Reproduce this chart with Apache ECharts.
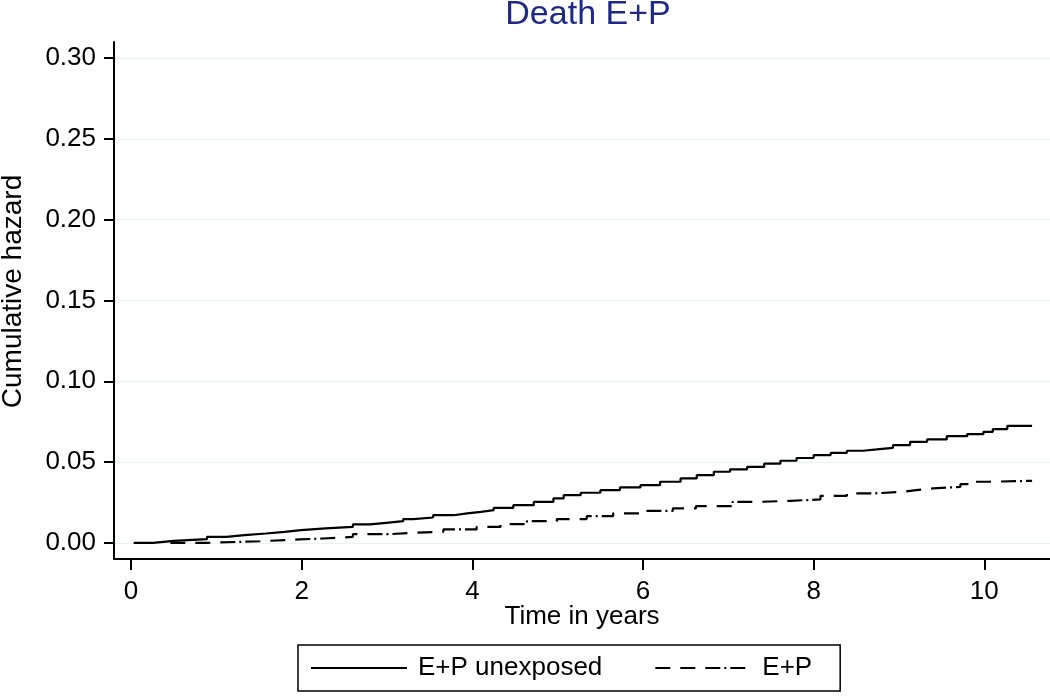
<!DOCTYPE html>
<html>
<head>
<meta charset="utf-8">
<script src="https://cdn.jsdelivr.net/npm/echarts@6/dist/echarts.min.js"></script>
<style>html,body{margin:0;padding:0;background:#fff}#chart{width:1050px;height:696px}</style>
</head>
<body>
<div id="chart"></div>
<script>
// Time (years) and cumulative hazard values (step points)
const unexposedTime = [0.03,0.26,0.5,0.89,1.12,1.33,1.58,1.8,1.99,2.28,2.6,2.8,2.99,3.19,3.31,3.54,3.78,3.94,4.1,4.25,4.48,4.72,4.95,5.07,5.27,5.5,5.73,5.97,6.2,6.44,6.63,6.83,7.02,7.22,7.42,7.61,7.8,8.0,8.2,8.39,8.58,8.74,8.93,9.13,9.33,9.56,9.8,9.99,10.1,10.27,10.56];
const unexposedHaz  = [0,0.0012,0.0023,0.0037,0.0048,0.0058,0.0068,0.0079,0.0089,0.0099,0.0114,0.0124,0.0134,0.0147,0.0157,0.0171,0.0182,0.0192,0.0202,0.0217,0.0233,0.0254,0.0275,0.0295,0.031,0.0326,0.0343,0.0357,0.0378,0.0399,0.0419,0.044,0.0455,0.047,0.049,0.0508,0.0525,0.0543,0.0557,0.057,0.0578,0.0588,0.0605,0.0625,0.064,0.066,0.0673,0.0687,0.0704,0.0724,0.0724];
const epTime = [0.46,0.89,1.51,1.98,2.25,2.6,3.04,3.3,3.66,4.05,4.33,4.64,4.99,5.34,5.65,6.0,6.35,6.62,7.05,7.37,7.73,8.08,8.39,8.7,9.05,9.2,9.4,9.72,9.87,10.05,10.56];
const epHaz  = [0,0.001,0.0021,0.0027,0.0037,0.0054,0.0062,0.0068,0.0083,0.0099,0.0116,0.0134,0.0147,0.0165,0.0182,0.0198,0.0213,0.0227,0.0254,0.026,0.0269,0.0291,0.0306,0.0316,0.0326,0.0337,0.0347,0.0363,0.0378,0.0384,0.0384];
const xTicks = [0,2,4,6,8,10];
const yTicks = [0,0.05,0.10,0.15,0.20,0.25,0.30];
const seriesNames = ['E+P unexposed','E+P'];
const titleText = 'Death E+P';
const xName = 'Time in years';
const yName = 'Cumulative hazard';

const FONT = '"Liberation Sans", Arial, sans-serif';
const pair = (xs, ys) => xs.map((x, i) => [x, ys[i]]);

const chart = echarts.init(document.getElementById('chart'), null, {renderer: 'canvas'});
chart.setOption({
  animation: false,
  backgroundColor: '#fff',
  title: {
    text: titleText, left: 583, top: -7, textAlign: 'center',
    textStyle: {fontFamily: FONT, fontSize: 34, fontWeight: 'normal', color: '#1c2a86'}
  },
  grid: {left: 114, right: 0, top: 42, bottom: 137, containLabel: false, outerBoundsMode: 'none'},
  xAxis: {
    type: 'value', min: -0.2, max: 10.77,
    name: xName, nameLocation: 'middle', nameGap: 45, nameMoveOverlap: false,
    nameTextStyle: {fontFamily: FONT, fontSize: 26, color: '#000'},
    axisLine: {show: true, onZero: false, lineStyle: {color: '#000', width: 2}},
    axisTick: {show: true, length: 11, lineStyle: {color: '#000', width: 2}, customValues: xTicks},
    axisLabel: {fontFamily: FONT, fontSize: 26, color: '#000', margin: 20, customValues: xTicks},
    splitLine: {show: false}
  },
  yAxis: {
    type: 'value', min: -0.01, max: 0.31,
    name: yName, nameLocation: 'middle', nameGap: 87, nameRotate: 90,
    nameTextStyle: {fontFamily: FONT, fontSize: 28, color: '#000', padding: [0, 0, 0, 18]},
    axisLine: {show: true, onZero: false, lineStyle: {color: '#000', width: 2}},
    axisTick: {show: true, length: 10, lineStyle: {color: '#000', width: 2}, customValues: yTicks},
    axisLabel: {fontFamily: FONT, fontSize: 26, color: '#000', margin: 18, customValues: yTicks,
      formatter: v => v.toFixed(2)},
    splitLine: {show: true, lineStyle: {color: '#e6f3f3', width: 1}}
  },
  legend: {
    left: 298, top: 645,
    data: seriesNames,
    itemWidth: 96, itemHeight: 14, itemGap: 52,
    padding: [10, 28, 10, 12],
    borderColor: '#000', borderWidth: 1.5, borderRadius: 0,
    itemStyle: {opacity: 0},
    textStyle: {fontFamily: FONT, fontSize: 26, color: '#000', padding: [0, 0, 0, 6]}
  },
  series: [
    {
      name: seriesNames[0], type: 'line', step: 'end', showSymbol: false, symbol: 'none',
      data: pair(unexposedTime, unexposedHaz),
      lineStyle: {color: '#000', width: 2.2, type: 'solid'},
      itemStyle: {color: '#000'}
    },
    {
      name: seriesNames[1], type: 'line', step: 'end', showSymbol: false, symbol: 'none',
      data: pair(epTime, epHaz),
      lineStyle: {color: '#000', width: 2.2, type: [15, 10, 15, 10, 15, 4, 2, 4]},
      itemStyle: {color: '#000'}
    }
  ]
});
</script>
</body>
</html>
